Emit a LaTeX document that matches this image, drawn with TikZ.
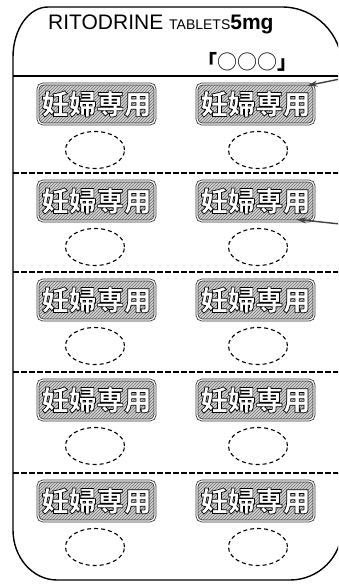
\documentclass[tikz,border=0pt]{standalone}
\usepackage{fontspec}
\setmainfont{Liberation Sans}
\newfontfamily\cjk{Noto Sans CJK JP}
\usetikzlibrary{patterns,arrows.meta,shapes.geometric}
\newcommand\outlinetxt[1]{\special{pdf:literal direct 0 G 2 Tr 0.7 w}#1\special{pdf:literal direct 0 Tr}}
\begin{document}
\begin{tikzpicture}[x=1pt,y=-1pt,
  outline/.style={line width=1.4pt},
  sepline/.style={line width=1.1pt, dash pattern=on 6pt off 2pt},
  topline/.style={line width=1.2pt},
  labelbox/.style={rounded corners=5pt, minimum width=117pt, minimum height=40pt,
    draw=black!80, line width=0.8pt, double=white, double distance=1.2pt,
    preaction={fill=gray!35}, pattern=north east lines, pattern color=black!55,
    inner sep=0pt, text=white, font=\cjk\fontsize{27.5}{27.5}\selectfont\bfseries},
  pillspot/.style={ellipse, draw, dash pattern=on 4pt off 3pt, line width=1.1pt,
    minimum width=59pt, minimum height=37pt, inner sep=0pt},
  ptr/.style={line width=1.4pt, draw=black!75, -{Stealth[length=10pt,width=6pt,fill=black]}}]
\useasboundingbox (0,0) rectangle (338,585);
\clip (0,0) rectangle (338,585);
% outer card outline
\draw[outline] (48,7) -- (282,7) arc[start angle=-90, end angle=0, radius=60]
  -- (342,528) arc[start angle=0, end angle=90, radius=52]
  -- (57,580) arc[start angle=90, end angle=180, x radius=44, y radius=50]
  -- (13,57) arc[start angle=180, end angle=270, x radius=35, y radius=50] -- cycle;
% title
\node[anchor=base west, inner sep=0pt] (title) at (48,30)
  {\fontsize{21}{21}\selectfont RITODRINE {\fontsize{14}{14}\selectfont TABLETS}\textbf{5mg}};
\node[inner sep=0pt] (code) at (247,62)
  {\cjk\fontsize{20}{20}\selectfont{\bfseries 「}○○○{\bfseries 」}};
% separators
\draw[topline] (13,76) -- (342,76);
\foreach \yy in {173,272,372,473}{\draw[sepline] (13,\yy) -- (342,\yy);}
% rows
\foreach \L [count=\k] in {76,173,272,372,473}{
  \node[labelbox] (l\k) at (96.5,\L+28) {\outlinetxt{妊婦専用}};
  \node[labelbox] (r\k) at (255.5,\L+28) {\outlinetxt{妊婦専用}};
  \node[pillspot] (el\k) at (95,\L+74) {};
  \node[pillspot] (er\k) at (258,\L+74) {};
}
% arrows
\coordinate (a1s) at (340,79);
\coordinate (a2s) at (340,224);
\draw[ptr] (a1s) -- ([shift={(-7,2)}]r1.north east);
\draw[ptr] (a2s) -- ([shift={(-18,-2)}]r2.south east);
\end{tikzpicture}
\end{document}
